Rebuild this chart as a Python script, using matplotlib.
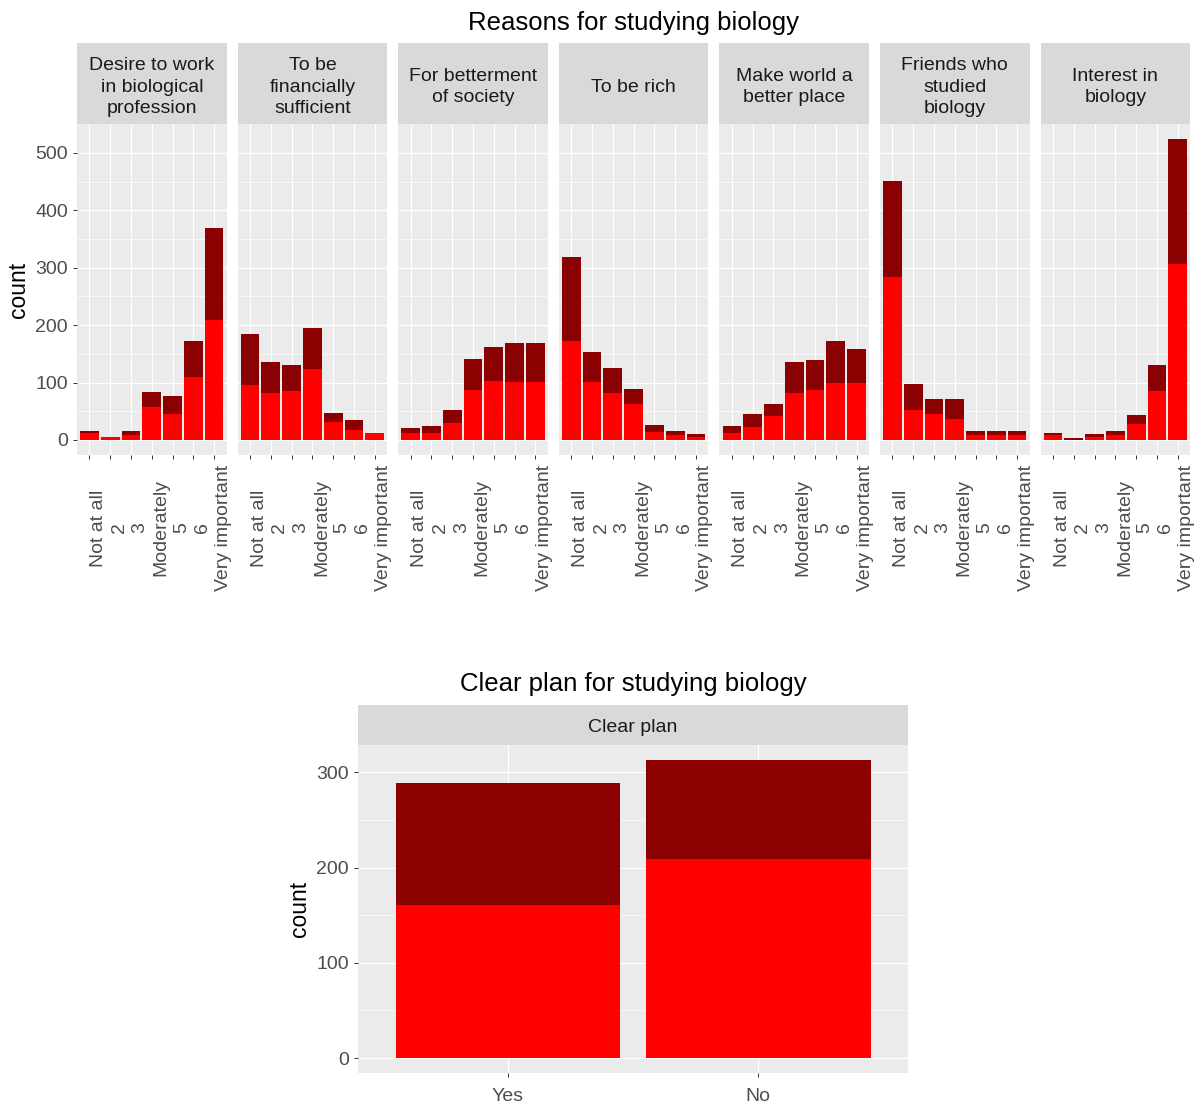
import matplotlib
matplotlib.use("Agg")
import matplotlib.pyplot as plt
import matplotlib.transforms as mtrans
import numpy as np

plt.rcParams['font.family'] = ['Liberation Sans', 'DejaVu Sans']

W, H = 1204, 1106

levels = ["Not at all", "2", "3", "Moderately", "5", "6", "Very important"]
reasons = ["Desire to work\nin biological\nprofession", "To be\nfinancially\nsufficient",
           "For betterment\nof society", "To be rich", "Make world a\nbetter place",
           "Friends who\nstudied\nbiology", "Interest in\nbiology"]

# lower (red) segment of each stacked bar
red_counts = [
    [12, 6, 8, 57, 45, 109, 209],
    [95, 81, 85, 123, 31, 17, 12],
    [12, 12, 29, 87, 102, 101, 101],
    [172, 101, 81, 62, 13, 8, 6],
    [12, 22, 41, 81, 87, 99, 99],
    [284, 53, 45, 36, 8, 8, 8],
    [8, 0, 6, 8, 27, 85, 306],
]
# upper (dark red) segment
dark_counts = [
    [3, 0, 7, 26, 31, 63, 160],
    [89, 54, 45, 72, 16, 17, 0],
    [8, 12, 23, 54, 60, 68, 68],
    [147, 52, 44, 26, 13, 7, 4],
    [12, 23, 21, 54, 52, 73, 59],
    [167, 44, 26, 35, 7, 7, 7],
    [4, 3, 4, 7, 16, 45, 218],
]

plan_labels = ["Yes", "No"]
plan_red = [161, 209]
plan_dark = [128, 104]

RED = "#FF0000"
DARK = "#8B0000"
PANEL = "#EBEBEB"
STRIP = "#D9D9D9"
TICKCOL = "#4D4D4D"


def box(x0, y0, x1, y1):
    return [x0 / W, 1 - y1 / H, (x1 - x0) / W, (y1 - y0) / H]


def style_panel(ax):
    ax.set_facecolor(PANEL)
    for s in ax.spines.values():
        s.set_visible(False)
    ax.grid(which='major', color='white', linewidth=0.85)
    ax.grid(which='minor', axis='y', color='white', linewidth=0.45)
    ax.set_axisbelow(True)
    ax.tick_params(which='major', color='#333333', length=3, width=0.7,
                   labelcolor=TICKCOL, labelsize=14)
    ax.tick_params(which='minor', length=0)


def strip(x0, y0, x1, y1, text, size=14, drop=3.5):
    sa = fig.add_axes(box(x0, y0, x1, y1))
    sa.set_facecolor(STRIP)
    for s in sa.spines.values():
        s.set_visible(False)
    sa.set_xticks([])
    sa.set_yticks([])
    sa.text(0.5, 0.5 - drop / (y1 - y0), text, ha='center', va='center', fontsize=size,
            color='#1A1A1A', linespacing=1.36, transform=sa.transAxes)


fig = plt.figure(figsize=(W / 100, H / 100), dpi=100)
# rotated labels sit a little right of their tick, centred 73px below the panel
offset = mtrans.ScaledTranslation(9 / 100, -73 / 100, fig.dpi_scale_trans)

# ---- top: reasons facets ----
x = np.arange(1, len(levels) + 1)
pw, gap = 149.6, 11.0
for i, name in enumerate(reasons):
    left = 77 + i * (pw + gap)
    ax = fig.add_axes(box(left, 124, left + pw, 455))
    style_panel(ax)
    ax.bar(x, red_counts[i], width=0.9, color=RED, linewidth=0)
    ax.bar(x, dark_counts[i], width=0.9, bottom=red_counts[i], color=DARK, linewidth=0)
    ax.set_xlim(0.4, 7.6)
    ax.set_ylim(-26.2, 550.2)
    ax.set_yticks([0, 100, 200, 300, 400, 500])
    ax.set_yticks([50, 150, 250, 350, 450], minor=True)
    ax.set_xticks(x)
    ax.set_xticklabels([])
    trans = mtrans.blended_transform_factory(ax.transData, ax.transAxes) + offset
    for xi, lab in zip(x, levels):
        ax.text(xi, 0, lab, transform=trans, rotation=90, ha='center', va='center',
                fontsize=14, color=TICKCOL, clip_on=False)
    if i == 0:
        ax.set_ylabel("count", fontsize=16.5, labelpad=4)
    else:
        ax.tick_params(axis='y', length=0, labelleft=False)
    strip(left, 43, left + pw, 124, name)

fig.text(633 / W, 1 - 23 / H, "Reasons for studying biology", ha='center', va='center',
         fontsize=18.5)

# ---- bottom: clear plan ----
ax = fig.add_axes(box(358, 745, 908, 1073))
style_panel(ax)
xp = np.arange(1, len(plan_labels) + 1)
ax.bar(xp, plan_red, width=0.9, color=RED, linewidth=0)
ax.bar(xp, plan_dark, width=0.9, bottom=plan_red, color=DARK, linewidth=0)
ax.set_xlim(0.4, 2.6)
ax.set_ylim(-15.65, 328.7)
ax.set_yticks([0, 100, 200, 300])
ax.set_yticks([50, 150, 250], minor=True)
ax.set_xticks(xp)
ax.set_xticklabels(plan_labels)
ax.tick_params(axis='x', pad=8)
ax.set_ylabel("count", fontsize=16.5, labelpad=4)
strip(358, 705, 908, 745, "Clear plan", drop=2.5)
fig.text(633 / W, 1 - 684 / H, "Clear plan for studying biology", ha='center', va='center',
         fontsize=18.5)

fig.savefig("out.png", dpi=100)
